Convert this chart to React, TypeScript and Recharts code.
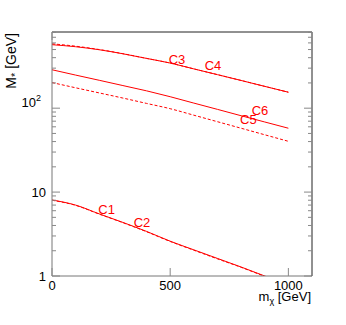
import { LineChart, Line, XAxis, YAxis, ReferenceDot } from 'recharts';

const massX = [0, 100, 200, 300, 400, 500, 600, 700, 800, 900, 1000];
const c1 = [8.05, 7.0, 5.5, 4.35, 3.4, 2.6, 2.05, 1.62, 1.28, 1.0, 0.79];
const c2 = [8.0, 6.95, 5.46, 4.32, 3.37, 2.58, 2.03, 1.6, 1.27, 0.99, 0.78];
const c3 = [571, 540, 497, 445, 392, 345, 294, 251, 214, 182, 155];
const c4 = [585, 548, 500, 446, 392, 345, 294, 251, 214, 182, 155];
const c5 = [202, 175, 152, 132, 114, 98.6, 82.5, 69, 57.7, 48.2, 40.3];
const c6 = [287, 248, 215, 186, 161, 137, 115, 96.8, 81.3, 68.5, 57.7];

const xTicks = [0, 500, 1000];
const yTicks = [
    1, 2, 3, 4, 5, 6, 7, 8, 9,
    10, 20, 30, 40, 50, 60, 70, 80, 90,
    100, 200, 300, 400, 500, 600, 700, 800,
];
const yMajor = [1, 10, 100];

// curve labels, placed in data coordinates
const curveLabels = [
    { name: 'C1', x: 231, y: 6.3 },
    { name: 'C2', x: 381, y: 4.3 },
    { name: 'C3', x: 529, y: 386 },
    { name: 'C4', x: 681, y: 327 },
    { name: 'C5', x: 831, y: 74 },
    { name: 'C6', x: 880, y: 95 },
];

const data = massX.map((x, i) => ({
    x,
    c1: c1[i],
    c2: c2[i],
    c3: c3[i],
    c4: c4[i],
    c5: c5[i],
    c6: c6[i],
}));

const FONT = '"Liberation Sans", Arial, sans-serif';
const TICK = '#888';
const RED = '#ff0000';

function LeftTick({ x, y, payload }: any) {
    const v = payload.value;
    const major = yMajor.includes(v);
    let label = null;
    if (v === 100) {
        label = (
            <text x={x - 11} y={y - 1} textAnchor="end" fontSize={13} fill="#000" fontFamily={FONT}>
                10<tspan dy={-6} fontSize={9}>2</tspan>
            </text>
        );
    } else if (major) {
        label = (
            <text x={x - 6} y={y + 4.5} textAnchor="end" fontSize={13} fill="#000" fontFamily={FONT}>
                {v}
            </text>
        );
    }
    return (
        <g>
            <line x1={x} x2={x + (major ? 8 : 4)} y1={y} y2={y} stroke={TICK} />
            {label}
        </g>
    );
}

function RightTick({ x, y, payload }: any) {
    const major = yMajor.includes(payload.value);
    return <line x1={x} x2={x - (major ? 8 : 4)} y1={y} y2={y} stroke={TICK} />;
}

function BottomTick({ x, y, payload }: any) {
    return (
        <g>
            <line x1={x} x2={x} y1={y} y2={y - 8} stroke={TICK} />
            <text x={x} y={y + 14} textAnchor="middle" fontSize={13} fill="#000" fontFamily={FONT}>
                {payload.value}
            </text>
        </g>
    );
}

function TopTick({ x, y }: any) {
    return <line x1={x} x2={x} y1={y} y2={y + 8} stroke={TICK} />;
}

export default function App() {
    return (
        <div style={{ position: 'absolute', left: 0, top: 0, width: 346, height: 325, background: '#fff' }}>
            <LineChart width={346} height={325} data={data} margin={{ top: 0, right: 0, bottom: 0, left: 0 }}>
                <XAxis
                    xAxisId="b"
                    dataKey="x"
                    type="number"
                    domain={[0, 1100]}
                    allowDataOverflow
                    ticks={xTicks}
                    interval={0}
                    height={49}
                    tickSize={0}
                    tickMargin={0}
                    axisLine={{ stroke: '#777' }}
                    tick={<BottomTick />}
                />
                <XAxis
                    xAxisId="t"
                    orientation="top"
                    type="number"
                    domain={[0, 1100]}
                    allowDataOverflow
                    ticks={xTicks}
                    interval={0}
                    height={32}
                    tickSize={0}
                    tickMargin={0}
                    axisLine={{ stroke: '#222' }}
                    tick={<TopTick />}
                />
                <YAxis
                    yAxisId="l"
                    scale="log"
                    domain={[1, 809]}
                    allowDataOverflow
                    ticks={yTicks}
                    interval={0}
                    width={52}
                    tickSize={0}
                    tickMargin={0}
                    axisLine={{ stroke: '#777' }}
                    tick={<LeftTick />}
                />
                <YAxis
                    yAxisId="r"
                    orientation="right"
                    scale="log"
                    domain={[1, 809]}
                    allowDataOverflow
                    ticks={yTicks}
                    interval={0}
                    width={34}
                    tickSize={0}
                    tickMargin={0}
                    axisLine={{ stroke: '#222' }}
                    tick={<RightTick />}
                />
                <Line xAxisId="b" yAxisId="l" type="monotone" dataKey="c1" stroke={RED} strokeWidth={1} dot={false} isAnimationActive={false} />
                <Line xAxisId="b" yAxisId="l" type="monotone" dataKey="c2" stroke={RED} strokeWidth={1} strokeDasharray="3 2" dot={false} isAnimationActive={false} />
                <Line xAxisId="b" yAxisId="l" type="monotone" dataKey="c3" stroke={RED} strokeWidth={1} dot={false} isAnimationActive={false} />
                <Line xAxisId="b" yAxisId="l" type="monotone" dataKey="c4" stroke={RED} strokeWidth={1} strokeDasharray="3 2" dot={false} isAnimationActive={false} />
                <Line xAxisId="b" yAxisId="l" type="monotone" dataKey="c5" stroke={RED} strokeWidth={1} strokeDasharray="3 2" dot={false} isAnimationActive={false} />
                <Line xAxisId="b" yAxisId="l" type="monotone" dataKey="c6" stroke={RED} strokeWidth={1} dot={false} isAnimationActive={false} />
                {curveLabels.map((c) => (
                    <ReferenceDot
                        key={c.name}
                        xAxisId="b"
                        yAxisId="l"
                        x={c.x}
                        y={c.y}
                        r={0}
                        fill="none"
                        stroke="none"
                        label={{ value: c.name, position: 'center', fill: RED, fontSize: 13, fontFamily: FONT }}
                    />
                ))}
            </LineChart>
            <svg width={346} height={325} style={{ position: 'absolute', left: 0, top: 0, pointerEvents: 'none' }}>
                <text x={311} y={301} textAnchor="end" fontSize={13} fill="#000" fontFamily={FONT}>
                    m<tspan dy={3} fontSize={9}>χ</tspan>
                    <tspan dy={-3}> [GeV]</tspan>
                </text>
                <text
                    transform="translate(16, 33) rotate(-90)"
                    textAnchor="end"
                    fontSize={14}
                    fill="#000"
                    fontFamily={FONT}
                >
                    M<tspan dy={3} fontSize={11}>*</tspan>
                    <tspan dy={-3}> [GeV]</tspan>
                </text>
            </svg>
        </div>
    );
}
